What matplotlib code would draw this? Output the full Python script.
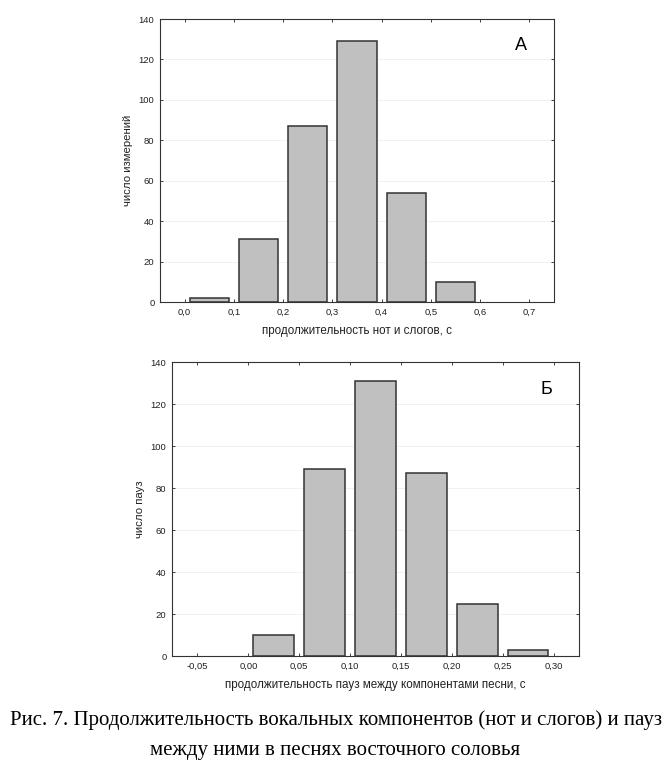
import matplotlib.pyplot as plt
import numpy as np

# data
notes_bins = [0.05, 0.15, 0.25, 0.35, 0.45, 0.55]
notes_counts = [2, 31, 87, 129, 54, 10]
notes_ticks = [0.0, 0.1, 0.2, 0.3, 0.4, 0.5, 0.6, 0.7]

pause_bins = [0.025, 0.075, 0.125, 0.175, 0.225, 0.275]
pause_counts = [10, 89, 131, 87, 25, 3]
pause_ticks = [-0.05, 0.0, 0.05, 0.10, 0.15, 0.20, 0.25, 0.30]

y_ticks = [0, 20, 40, 60, 80, 100, 120, 140]

plt.rcParams['font.family'] = ['Liberation Sans', 'DejaVu Sans']

fig = plt.figure(figsize=(6.71, 7.68), dpi=100)

W, H = 671.0, 768.0


def style_axes(ax, xticks, fmt, ylabel, xlabel, letter, letter_pos):
    ax.set_ylim(0, 140)
    ax.set_yticks(y_ticks)
    ax.set_xticks(xticks)
    ax.set_xticklabels([fmt(t).replace('.', ',') for t in xticks])
    ax.tick_params(labelsize=6.8, length=2, width=0.6, direction='in',
                   top=True, right=True, colors='#222222', pad=4)
    ax.yaxis.grid(True, color='#ececec', linewidth=0.5)
    ax.set_axisbelow(True)
    for s in ax.spines.values():
        s.set_linewidth(0.8)
        s.set_color('#333333')
    ax.set_ylabel(ylabel, fontsize=8.2, color='#222222', labelpad=4)
    ax.set_xlabel(xlabel, fontsize=8.4, color='#222222', labelpad=6)
    ax.text(letter_pos[0], letter_pos[1], letter, transform=ax.transAxes,
            fontsize=13, ha='center', va='center')


# top panel
ax1 = fig.add_axes([160 / W, 1 - 302 / H, (554 - 160) / W, (302 - 19) / H])
ax1.bar(notes_bins, notes_counts, width=0.08, color='#c0c0c0',
        edgecolor='#333333', linewidth=1.1)
ax1.set_xlim(-0.05, 0.75)
style_axes(ax1, notes_ticks, lambda t: f'{t:.1f}', 'число измерений',
           'продолжительность нот и слогов, с', 'А', (0.915, 0.905))

# bottom panel
ax2 = fig.add_axes([172 / W, 1 - 656 / H, (579 - 172) / W, (656 - 362) / H])
ax2.bar(pause_bins, pause_counts, width=0.04, color='#c0c0c0',
        edgecolor='#333333', linewidth=1.1)
ax2.set_xlim(-0.075, 0.325)
style_axes(ax2, pause_ticks, lambda t: f'{t:.2f}', 'число пауз',
           'продолжительность пауз между компонентами песни, с', 'Б',
           (0.92, 0.905))

fig.text(0.5, 1 - 720 / H,
         'Рис. 7. Продолжительность вокальных компонентов (нот и слогов) и пауз',
         family='Liberation Serif', fontsize=15, ha='center', va='center')
fig.text(0.5, 1 - 751 / H, 'между ними в песнях восточного соловья',
         family='Liberation Serif', fontsize=15, ha='center', va='center')

fig.savefig('out.png', dpi=100)
